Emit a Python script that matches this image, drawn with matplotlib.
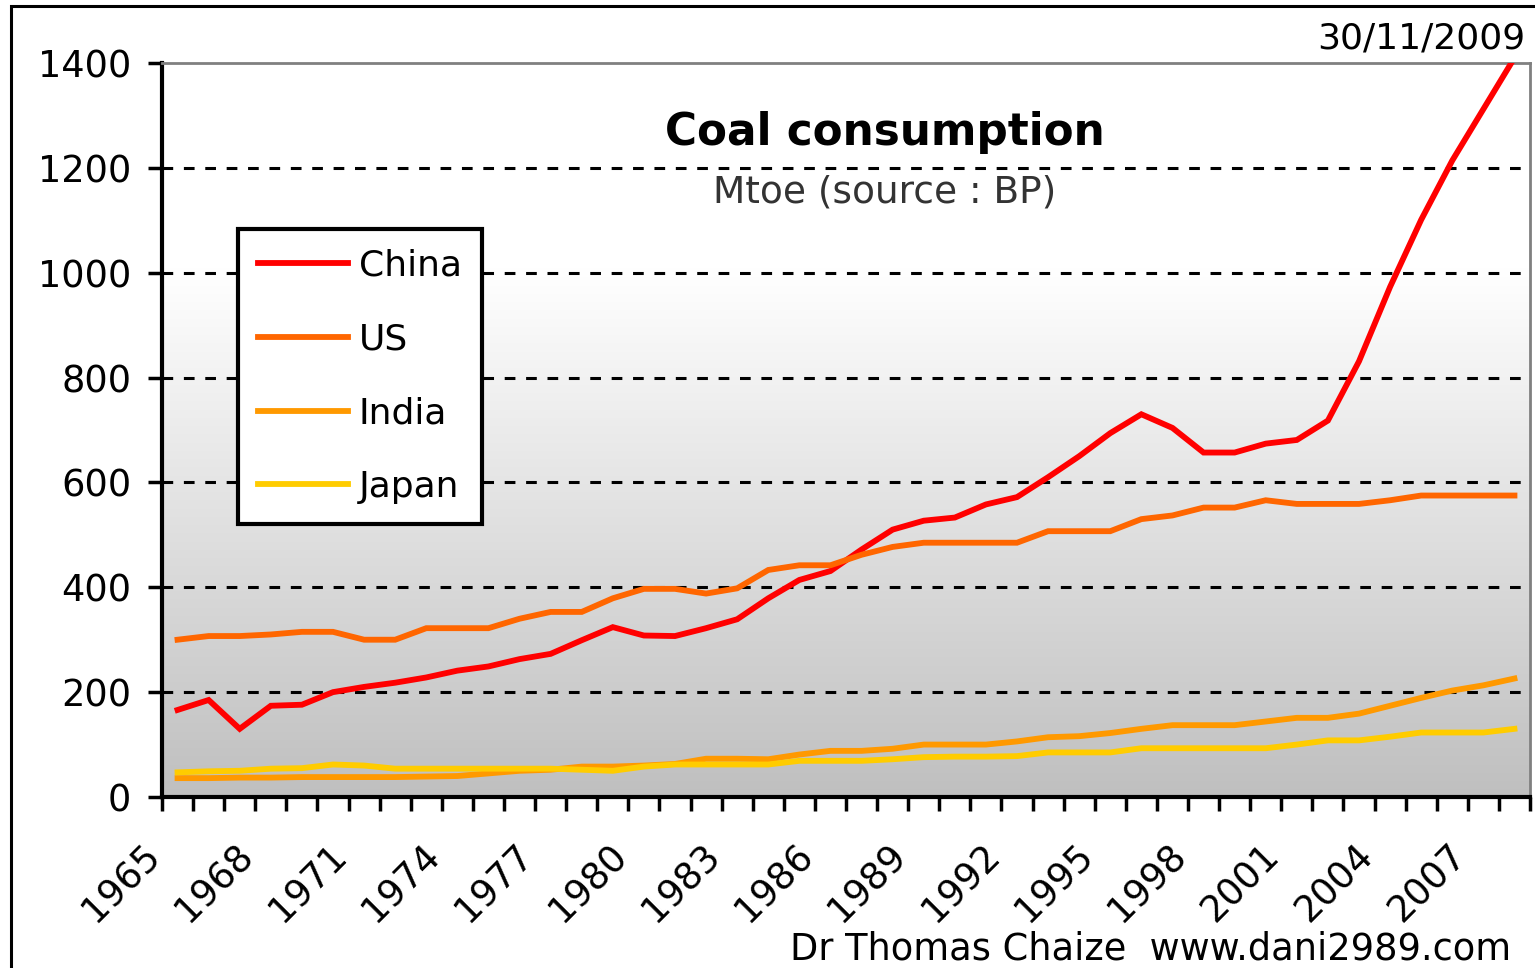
import numpy as np
import matplotlib
matplotlib.use("Agg")
import matplotlib.pyplot as plt
from matplotlib.patches import Rectangle
from matplotlib.transforms import ScaledTranslation

# ── data (Mtoe) ───────────────────────────────────────────────────────────────

years = list(range(1965, 2009))

china = [166, 185, 130, 174, 176, 200, 210, 218, 228, 241, 249, 263, 273, 299,
         324, 308, 307, 322, 339, 379, 414, 431, 472, 510, 527, 533, 558, 572,
         610, 650, 694, 730, 704, 657, 657, 674, 681, 718, 831, 973, 1101, 1214,
         1312, 1410]
us = [300, 307, 307, 310, 315, 315, 300, 300, 322, 322, 322, 340, 353, 353,
      379, 397, 397, 388, 398, 433, 442, 442, 462, 477, 485, 485, 485, 485,
      507, 507, 507, 530, 537, 552, 552, 566, 559, 559, 559, 566, 575, 575,
      575, 575]
india = [36, 36, 37, 37, 38, 38, 38, 38, 39, 40, 45, 50, 52, 58, 58, 60, 63,
         73, 73, 72, 81, 88, 88, 92, 100, 100, 100, 106, 114, 116, 122, 130,
         137, 137, 137, 144, 151, 151, 159, 174, 189, 203, 213, 226]
japan = [47, 49, 50, 54, 55, 62, 60, 54, 54, 54, 54, 54, 54, 52, 50, 58, 62,
         62, 62, 62, 69, 69, 69, 72, 76, 77, 77, 78, 85, 85, 85, 93, 93, 93,
         93, 93, 100, 108, 108, 115, 123, 123, 123, 130]

series = [("China", china, "#ff0000"),
          ("US", us, "#ff6600"),
          ("India", india, "#ff9900"),
          ("Japan", japan, "#ffcc00")]

yticks = [0, 200, 400, 600, 800, 1000, 1200, 1400]
label_years = years[::3]

# ── figure ─────────────────────────────────────────────────────────────────────

W, H = 1535, 968
fig = plt.figure(figsize=(W / 100, H / 100), dpi=100)
fig.patch.set_facecolor("white")

# outer chart-area frame (only top and left visible in the reference)
fig.patches.append(Rectangle((11 / W, -0.05), 1.2, 1 - 6 / H + 0.05,
                             transform=fig.transFigure, fill=False,
                             edgecolor="black", linewidth=2.2, zorder=0))

ax = fig.add_axes([162 / W, 1 - 797 / H, 1368 / W, 734 / H])

x = np.arange(len(years))
ax.set_xlim(-0.5, len(years) - 0.5)
ax.set_ylim(0, 1400)

# gradient background: grey at bottom, white towards the top
f = np.linspace(0, 1, 256)
shade = np.clip(0.75 + 0.25 * f / 0.72, 0, 1)
grad = np.repeat(shade[:, None, None], 3, axis=2)
ax.imshow(grad, extent=[-0.5, len(years) - 0.5, 0, 1400], aspect="auto",
          origin="lower", zorder=0, interpolation="bilinear")

for yv in yticks[1:-1]:
    ax.axhline(yv, color="black", linestyle=(0, (3.5, 3.5)), linewidth=2.2,
               zorder=1)

for name, vals, col in series:
    ax.plot(x, vals, color=col, linewidth=4.2, label=name, zorder=3,
            solid_joinstyle="miter")

# spines
for side in ("left", "bottom"):
    ax.spines[side].set_linewidth(3)
    ax.spines[side].set_color("black")
for side in ("top", "right"):
    ax.spines[side].set_linewidth(2)
    ax.spines[side].set_color("#808080")

# y axis
ax.set_yticks(yticks)
ax.set_yticklabels([str(v) for v in yticks])
ax.tick_params(axis="y", direction="out", length=10, width=2.5, pad=12,
               labelsize=26.5)

# x axis: tick marks at category boundaries, labels every third year
ax.set_xticks(np.arange(-0.5, len(years)), minor=True)
ax.set_xticks(x[::3])
ax.set_xticklabels([str(y) for y in label_years], rotation=45, ha="right",
                   va="center", rotation_mode="anchor")
ax.tick_params(axis="x", which="minor", direction="out", length=10, width=2.5)
ax.tick_params(axis="x", which="major", length=0, pad=38, labelsize=26.5)
shift = ScaledTranslation(-23 / 100, 0, fig.dpi_scale_trans)
for lab in ax.get_xticklabels():
    lab.set_transform(lab.get_transform() + shift)

# legend
leg = ax.legend(loc="upper left", bbox_to_anchor=(76 / 1368, (797 - 229) / 734),
                borderaxespad=0, fontsize=26, frameon=True, fancybox=False,
                handlelength=2.5, handletextpad=0.3, labelspacing=1.1,
                borderpad=0.55)
leg.get_frame().set_edgecolor("black")
leg.get_frame().set_linewidth(3)
leg.get_frame().set_facecolor("white")
leg.get_frame().set_alpha(1)
leg.set_zorder(5)

# texts
fig.text(885 / W, 1 - 133 / H, "Coal consumption", ha="center", va="center",
         fontsize=31.5, fontweight="bold", color="black")
fig.text(885 / W, 1 - 193 / H, "Mtoe (source : BP)", ha="center",
         va="center", fontsize=27, color="#333333")
fig.text(1525 / W, 1 - 38 / H, "30/11/2009", ha="right", va="center",
         fontsize=26, color="black")
fig.text(790 / W, 1 - 930 / H, "Dr Thomas Chaize  www.dani2989.com",
         ha="left", va="top", fontsize=26.5, color="black")

fig.savefig("out.png", dpi=100)
